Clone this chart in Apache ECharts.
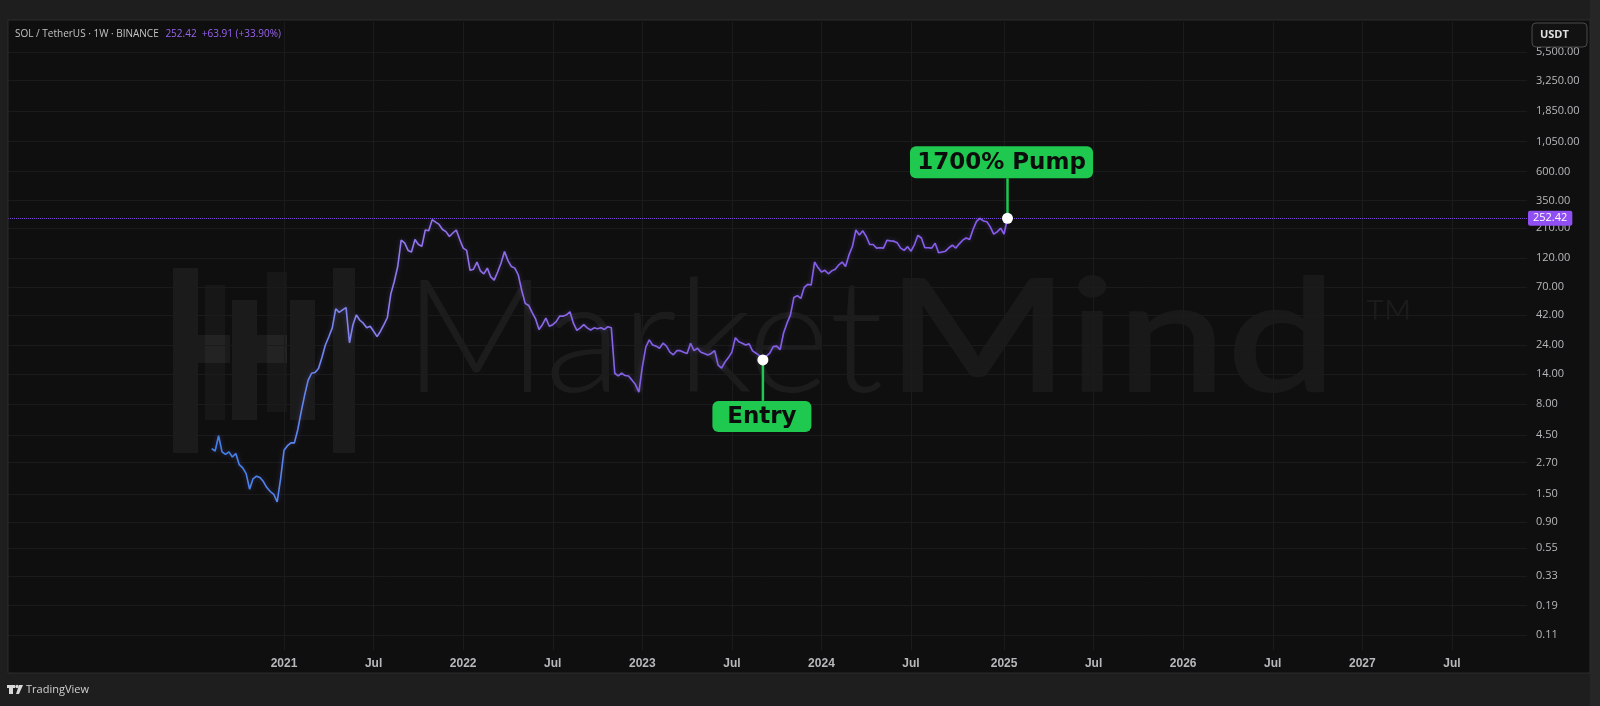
<!DOCTYPE html>
<html><head><meta charset="utf-8">
<script src="https://cdn.jsdelivr.net/npm/echarts@6/dist/echarts.min.js"></script>
<style>html,body{margin:0;padding:0;background:#1e1e1e}#c{width:1600px;height:706px}</style>
</head><body><div id="c"></div>
<script>
// ---- DATA (weekly closes, SOL/USDT, Binance) ----
const startWeek = '2020-08-10';
const close2020 = [3.5,3.35,4.45,3.3,3.15,3.3,3.0,3.2,2.6,2.45,2.2,1.65,2.0,2.1,2.05,1.9,1.7,1.58,1.5,1.3,2.0];
const close2021 = [3.4,3.7,3.9,3.9,5.0,7.0,9.5,12.5,14.2,14.4,15.5,19,24,28,33,47,44,46,48,25,35,42,38,36,33,34,31,28,31,35,40,62,78,103,168,160,139,135,170,155,150,203,200,246,235,225,205,197,180,192,203,170];
const close2022 = [145,139,96,98,112,95,90,100,85,80,93,110,136,115,103,100,88,66,52,50,44,39,32,35,39.5,34,35,37,41,41,42,44.5,36,31.5,33,35,33,31.7,33,32.5,33,32,33.7,33,14.2,13.5,14.2,13.6,13.5,12.5,11.5,10];
const close2023 = [16,23,26.4,24,23.5,22.6,24.8,23.5,21,20,21.6,21.6,21,20.5,24.8,21.6,22.6,21,20.5,19.9,20.5,21.6,16.5,15.6,17.5,19,21,27.5,25.5,24.8,24,24.5,21.5,20.6,19.7,18.2,19.5,20.6,23.3,23.5,22,30,36,42,58,60,57,70,74,73,112,101];
const close2024 = [93,96,90,95,98,106,112,103,128,150,203,185,200,180,155,155,145,146,145,168,166,165,160,145,139,149,137,155,184,175,146,146,145,159,133,135,137,146,153,145,157,168,175,170,205,238,252,240,237,215,188,196,210];
const close2025 = [188.51,252.42];
const entryIndex = 160;           // week of 2023-09-04
const pumpIndex = 231;            // last week
const entryLabel = 'Entry';
const pumpLabel = '1700% Pump';
const lastPrice = 252.42;
const yTicks = [0.11,0.19,0.33,0.55,0.9,1.5,2.7,4.5,8,14,24,42,70,120,210,350,600,1050,1850,3250,5500];
const xTickDates = ['2021-01-04','2021-07-05','2022-01-03','2022-07-04','2023-01-02','2023-07-03','2024-01-01','2024-07-01','2025-01-06','2025-07-07','2026-01-05','2026-07-06','2027-01-04','2027-07-05'];
const xTickLabels = ['2021','Jul','2022','Jul','2023','Jul','2024','Jul','2025','Jul','2026','Jul','2027','Jul'];
const headerSymbol = 'SOL / TetherUS · 1W · BINANCE';
const headerQuote = '252.42  +63.91 (+33.90%)';

// ---- build ----
const WEEK = 7*864e5;
const t0 = new Date(startWeek).getTime();
const closes = [].concat(close2020, close2021, close2022, close2023, close2024, close2025);
const data = closes.map((v,i)=>[t0 + i*WEEK, v]);
const xTickVals = xTickDates.map(d=>new Date(d).getTime());
const labelMap = {}; xTickVals.forEach((t,i)=>labelMap[t]=xTickLabels[i]);

// layout
const G = {left:8, right:73, top:22, bottom:56};
const firstBarX = 211.7, pxPerWeek = 3.445;
const plotRight = 1600 - G.right;
const xMin = t0 - (firstBarX - G.left)/pxPerWeek*WEEK;
const xMax = t0 + (plotRight - firstBarX)/pxPerWeek*WEEK;
const pxPerDecade = 124, y011 = 635;
const yMax = 0.11*Math.pow(10,(y011-G.top)/pxPerDecade);
const yMin = 0.11*Math.pow(10,(y011-(706-G.bottom))/pxPerDecade);

const chart = echarts.init(document.getElementById('c'), null, {renderer:'canvas'});
const fmt = v => Number(v).toLocaleString('en-US',{minimumFractionDigits:2,maximumFractionDigits:2});
const gridLine = {show:true, lineStyle:{color:'#1b1b1d', width:1}};
const wm = 'rgba(255,255,255,0.05)';

const watermark = [
  {type:'rect', shape:{x:173,y:268,width:25,height:185}, style:{fill:wm}},
  {type:'rect', shape:{x:198,y:335,width:32,height:28}, style:{fill:wm}},
  {type:'rect', shape:{x:205,y:285,width:20,height:135}, style:{fill:'rgba(255,255,255,0.035)'}},
  {type:'rect', shape:{x:232,y:300,width:25,height:120}, style:{fill:wm}},
  {type:'rect', shape:{x:257,y:335,width:30,height:28}, style:{fill:wm}},
  {type:'rect', shape:{x:267,y:272,width:20,height:140}, style:{fill:'rgba(255,255,255,0.035)'}},
  {type:'rect', shape:{x:290,y:300,width:25,height:120}, style:{fill:wm}},
  {type:'rect', shape:{x:333,y:268,width:22,height:185}, style:{fill:wm}},
  {type:'text', x:404, y:420, scaleX:1.0, style:{text:'Market', fill:'rgba(255,255,255,0.055)', font:'300 158px Lato', textVerticalAlign:'bottom'}},
  {type:'text', x:886, y:420, scaleX:1.24, style:{text:'Mind', fill:'rgba(255,255,255,0.045)', font:'600 158px Lato', textVerticalAlign:'bottom'}},
  {type:'text', x:1364, y:292, style:{text:'™', fill:'rgba(255,255,255,0.05)', font:'300 68px Lato'}}
];
const frame = [
  {type:'rect', z:50, shape:{x:0,y:0,width:1600,height:20}, style:{fill:'#1e1e1e'}},
  {type:'rect', z:50, shape:{x:0,y:673,width:1600,height:33}, style:{fill:'#1e1e1e'}},
  {type:'rect', z:50, shape:{x:0,y:0,width:8,height:706}, style:{fill:'#1e1e1e'}},
  {type:'rect', z:50, shape:{x:1590,y:0,width:10,height:706}, style:{fill:'#262626'}},
  {type:'rect', z:51, shape:{x:8,y:20,width:1582,height:653}, style:{fill:'none', stroke:'#2c2c2e', lineWidth:1}},
  {type:'text', z:52, x:15, y:28, style:{text:'{a|'+headerSymbol+'}  {b|'+headerQuote+'}',
     rich:{a:{fill:'#c3c3c3', font:'10px "Open Sans"'}, b:{fill:'#9b63f2', font:'10px "Open Sans"'}}}},
  {type:'rect', z:52, shape:{x:1532,y:23,width:55,height:24,r:4}, style:{fill:'#121212', stroke:'#4a4a4c', lineWidth:1}},
  {type:'text', z:53, x:1540, y:29, style:{text:'USDT', fill:'#e0e0e0', font:'bold 11px "Open Sans"'}},
  {type:'rect', z:52, shape:{x:9,y:685,width:4,height:9}, style:{fill:'#d8d8d8'}},
  {type:'rect', z:52, shape:{x:7,y:685,width:8,height:3}, style:{fill:'#d8d8d8'}},
  {type:'circle', z:52, shape:{cx:17,cy:686.5,r:1.7}, style:{fill:'#d8d8d8'}},
  {type:'polygon', z:52, shape:{points:[[19,685],[23,685],[19,694],[16,694]]}, style:{fill:'#d8d8d8'}},
  {type:'text', z:52, x:26, y:684, style:{text:'TradingView', fill:'#d0d0d0', font:'11px "Open Sans"'}}
];

chart.setOption({
  backgroundColor:'#0f0f0f',
  animation:false,
  grid:{left:G.left, right:G.right, top:G.top, bottom:G.bottom, containLabel:false},
  xAxis:{type:'value', min:xMin, max:xMax, scale:true,
    axisLine:{show:false}, axisTick:{show:false, customValues:xTickVals},
    splitLine:gridLine,
    axisLabel:{customValues:xTickVals, formatter:v=>labelMap[v]||'', color:'#b8b8bc', fontSize:12, fontFamily:'Liberation Sans', fontWeight:'bold', margin:8}},
  yAxis:{type:'log', logBase:10, position:'right', min:yMin, max:yMax,
    axisLine:{show:false}, axisTick:{show:false, customValues:yTicks},
    splitLine:gridLine,
    axisLabel:{customValues:yTicks, formatter:fmt, color:'#b8b8bc', fontSize:11, fontFamily:'Open Sans', align:'left', margin:9}},
  graphic: watermark.concat(frame),
  series:[{
    type:'line', data:data, showSymbol:false, z:5,
    lineStyle:{width:1.6, color:{type:'linear',x:0,y:0,x2:1,y2:0, colorStops:[
      {offset:0,color:'#3d7fe8'},{offset:0.08,color:'#4f86ec'},{offset:0.17,color:'#7f86ee'},{offset:0.27,color:'#9572ea'},{offset:0.55,color:'#8460e6'},{offset:1,color:'#8a5cf0'}]},
      shadowColor:'rgba(130,100,240,0.35)', shadowBlur:4},
    markLine:{silent:true, symbol:['none','none'], data:[{yAxis:lastPrice}],
      lineStyle:{type:'dotted', color:'#7a48d8', width:1},
      label:{show:true, position:'end', distance:1, formatter:()=>fmt(lastPrice), color:'#ffffff', backgroundColor:'#8f4ff2', padding:[2,5,2,5], borderRadius:2, fontSize:11, fontFamily:'Open Sans'}}
  }]
});

function annot(idx, text, boxW, boxH, dy, dx){
  const p = chart.convertToPixel({seriesIndex:0}, data[idx]);
  const cx = p[0] + dx;
  const by = dy > 0 ? p[1] + dy : p[1] + dy - boxH;
  const lineY1 = dy > 0 ? by : by + boxH;
  return [
    {type:'line', z:60, shape:{x1:p[0],y1:p[1],x2:p[0],y2:lineY1}, style:{stroke:'#1fc94f', lineWidth:2.5}},
    {type:'rect', z:61, shape:{x:cx-boxW/2,y:by,width:boxW,height:boxH,r:6}, style:{fill:'#1fc94f'}},
    {type:'text', z:62, x:cx, y:by+boxH/2+1, style:{text:text, fill:'#0c0c0c', font:'bold 23px "DejaVu Sans"', textAlign:'center', textVerticalAlign:'middle'}},
    {type:'circle', z:63, shape:{cx:p[0],cy:p[1],r:5.5}, style:{fill:'#ffffff'}}
  ];
}
const extra = annot(entryIndex, entryLabel, 99, 31, 41, -1).concat(annot(pumpIndex, pumpLabel, 183, 32, -40, -6));
chart.setOption({graphic: watermark.concat(frame, extra)});
</script></body></html>
